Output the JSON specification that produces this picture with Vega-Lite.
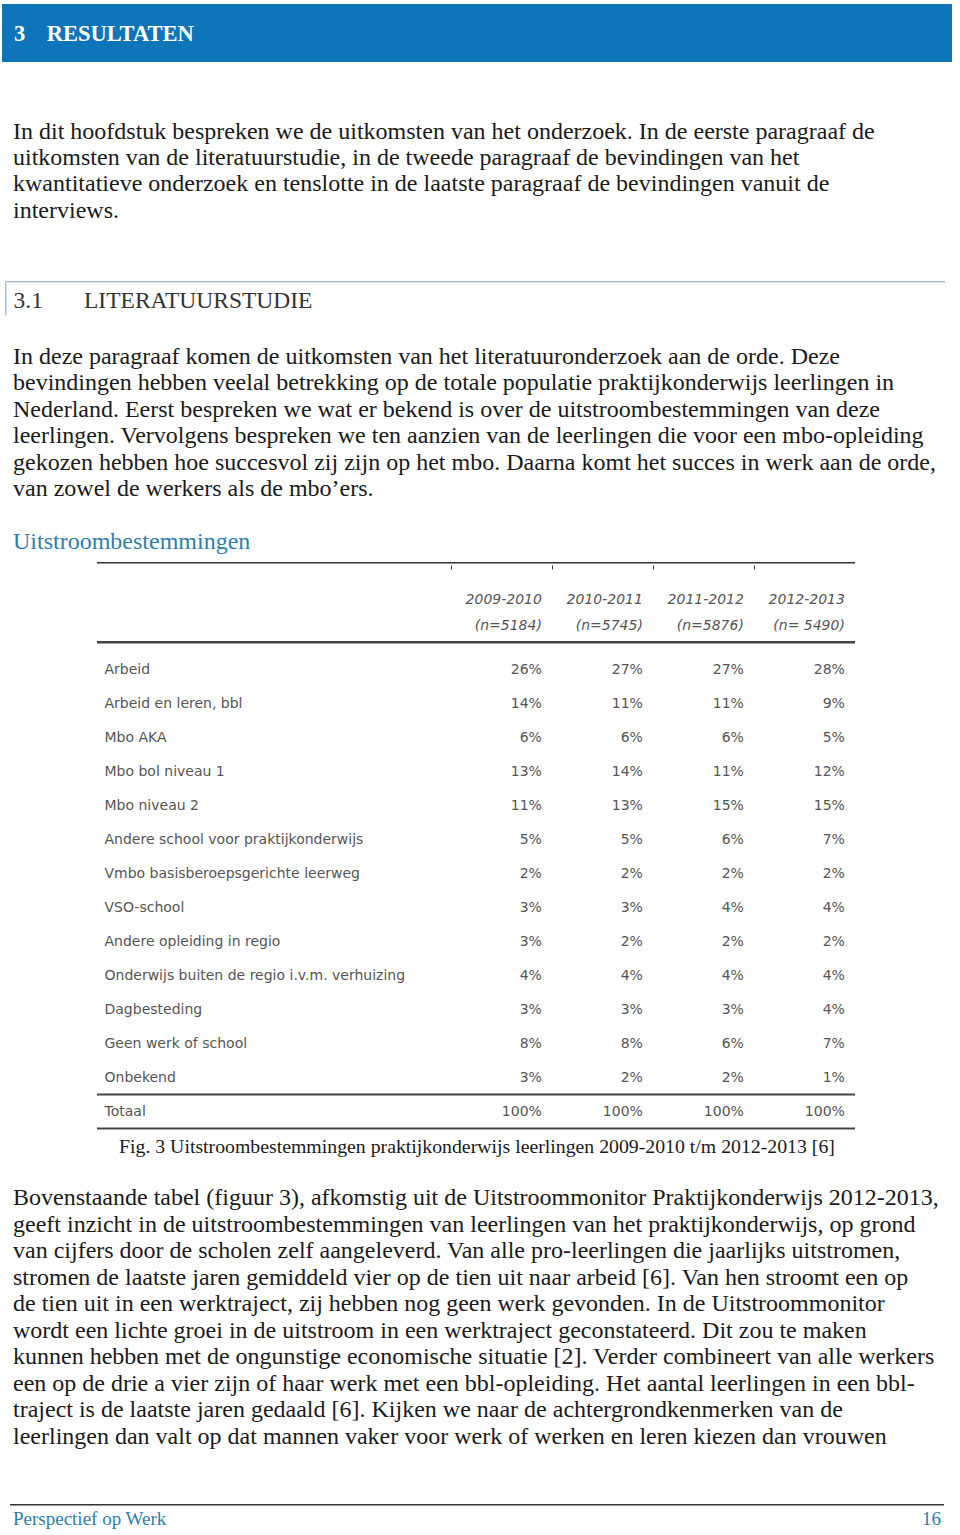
{
  "$schema": "https://vega.github.io/schema/vega-lite/v6.json",
  "padding": {"left": 2, "top": 4, "right": 0, "bottom": 0},
  "background": "white",
  "spacing": 0,
  "config": {
    "view": {"stroke": null},
    "concat": {"spacing": 0},
    "title": {"anchor": "start", "orient": "bottom", "frame": "group", "font": "Liberation Serif", "fontSize": 24, "fontWeight": "normal", "color": "#1a1a1a", "lineHeight": 26.4, "dx": 11}
  },
  "datasets": {
    "uitstroom": [
      {"bestemming": "Arbeid", "schooljaar": "2009-2010", "aandeel": 0.26},
      {"bestemming": "Arbeid", "schooljaar": "2010-2011", "aandeel": 0.27},
      {"bestemming": "Arbeid", "schooljaar": "2011-2012", "aandeel": 0.27},
      {"bestemming": "Arbeid", "schooljaar": "2012-2013", "aandeel": 0.28},
      {"bestemming": "Arbeid en leren, bbl", "schooljaar": "2009-2010", "aandeel": 0.14},
      {"bestemming": "Arbeid en leren, bbl", "schooljaar": "2010-2011", "aandeel": 0.11},
      {"bestemming": "Arbeid en leren, bbl", "schooljaar": "2011-2012", "aandeel": 0.11},
      {"bestemming": "Arbeid en leren, bbl", "schooljaar": "2012-2013", "aandeel": 0.09},
      {"bestemming": "Mbo AKA", "schooljaar": "2009-2010", "aandeel": 0.06},
      {"bestemming": "Mbo AKA", "schooljaar": "2010-2011", "aandeel": 0.06},
      {"bestemming": "Mbo AKA", "schooljaar": "2011-2012", "aandeel": 0.06},
      {"bestemming": "Mbo AKA", "schooljaar": "2012-2013", "aandeel": 0.05},
      {"bestemming": "Mbo bol niveau 1", "schooljaar": "2009-2010", "aandeel": 0.13},
      {"bestemming": "Mbo bol niveau 1", "schooljaar": "2010-2011", "aandeel": 0.14},
      {"bestemming": "Mbo bol niveau 1", "schooljaar": "2011-2012", "aandeel": 0.11},
      {"bestemming": "Mbo bol niveau 1", "schooljaar": "2012-2013", "aandeel": 0.12},
      {"bestemming": "Mbo niveau 2", "schooljaar": "2009-2010", "aandeel": 0.11},
      {"bestemming": "Mbo niveau 2", "schooljaar": "2010-2011", "aandeel": 0.13},
      {"bestemming": "Mbo niveau 2", "schooljaar": "2011-2012", "aandeel": 0.15},
      {"bestemming": "Mbo niveau 2", "schooljaar": "2012-2013", "aandeel": 0.15},
      {"bestemming": "Andere school voor praktijkonderwijs", "schooljaar": "2009-2010", "aandeel": 0.05},
      {"bestemming": "Andere school voor praktijkonderwijs", "schooljaar": "2010-2011", "aandeel": 0.05},
      {"bestemming": "Andere school voor praktijkonderwijs", "schooljaar": "2011-2012", "aandeel": 0.06},
      {"bestemming": "Andere school voor praktijkonderwijs", "schooljaar": "2012-2013", "aandeel": 0.07},
      {"bestemming": "Vmbo basisberoepsgerichte leerweg", "schooljaar": "2009-2010", "aandeel": 0.02},
      {"bestemming": "Vmbo basisberoepsgerichte leerweg", "schooljaar": "2010-2011", "aandeel": 0.02},
      {"bestemming": "Vmbo basisberoepsgerichte leerweg", "schooljaar": "2011-2012", "aandeel": 0.02},
      {"bestemming": "Vmbo basisberoepsgerichte leerweg", "schooljaar": "2012-2013", "aandeel": 0.02},
      {"bestemming": "VSO-school", "schooljaar": "2009-2010", "aandeel": 0.03},
      {"bestemming": "VSO-school", "schooljaar": "2010-2011", "aandeel": 0.03},
      {"bestemming": "VSO-school", "schooljaar": "2011-2012", "aandeel": 0.04},
      {"bestemming": "VSO-school", "schooljaar": "2012-2013", "aandeel": 0.04},
      {"bestemming": "Andere opleiding in regio", "schooljaar": "2009-2010", "aandeel": 0.03},
      {"bestemming": "Andere opleiding in regio", "schooljaar": "2010-2011", "aandeel": 0.02},
      {"bestemming": "Andere opleiding in regio", "schooljaar": "2011-2012", "aandeel": 0.02},
      {"bestemming": "Andere opleiding in regio", "schooljaar": "2012-2013", "aandeel": 0.02},
      {"bestemming": "Onderwijs buiten de regio i.v.m. verhuizing", "schooljaar": "2009-2010", "aandeel": 0.04},
      {"bestemming": "Onderwijs buiten de regio i.v.m. verhuizing", "schooljaar": "2010-2011", "aandeel": 0.04},
      {"bestemming": "Onderwijs buiten de regio i.v.m. verhuizing", "schooljaar": "2011-2012", "aandeel": 0.04},
      {"bestemming": "Onderwijs buiten de regio i.v.m. verhuizing", "schooljaar": "2012-2013", "aandeel": 0.04},
      {"bestemming": "Dagbesteding", "schooljaar": "2009-2010", "aandeel": 0.03},
      {"bestemming": "Dagbesteding", "schooljaar": "2010-2011", "aandeel": 0.03},
      {"bestemming": "Dagbesteding", "schooljaar": "2011-2012", "aandeel": 0.03},
      {"bestemming": "Dagbesteding", "schooljaar": "2012-2013", "aandeel": 0.04},
      {"bestemming": "Geen werk of school", "schooljaar": "2009-2010", "aandeel": 0.08},
      {"bestemming": "Geen werk of school", "schooljaar": "2010-2011", "aandeel": 0.08},
      {"bestemming": "Geen werk of school", "schooljaar": "2011-2012", "aandeel": 0.06},
      {"bestemming": "Geen werk of school", "schooljaar": "2012-2013", "aandeel": 0.07},
      {"bestemming": "Onbekend", "schooljaar": "2009-2010", "aandeel": 0.03},
      {"bestemming": "Onbekend", "schooljaar": "2010-2011", "aandeel": 0.02},
      {"bestemming": "Onbekend", "schooljaar": "2011-2012", "aandeel": 0.02},
      {"bestemming": "Onbekend", "schooljaar": "2012-2013", "aandeel": 0.01},
      {"bestemming": "Totaal", "schooljaar": "2009-2010", "aandeel": 1.0},
      {"bestemming": "Totaal", "schooljaar": "2010-2011", "aandeel": 1.0},
      {"bestemming": "Totaal", "schooljaar": "2011-2012", "aandeel": 1.0},
      {"bestemming": "Totaal", "schooljaar": "2012-2013", "aandeel": 1.0}
    ],
    "kolommen": [
      {"schooljaar": "2009-2010", "n": "(n=5184)"},
      {"schooljaar": "2010-2011", "n": "(n=5745)"},
      {"schooljaar": "2011-2012", "n": "(n=5876)"},
      {"schooljaar": "2012-2013", "n": "(n= 5490)"}
    ]
  },
  "vconcat": [
    {
      "width": 950, "height": 58,
      "view": {"fill": "#0E75B8", "stroke": null},
      "data": {"values": []},
      "mark": "point",
      "title": {"text": "3\u00a0\u00a0\u00a0\u2009RESULTATEN", "color": "#ffffff", "fontWeight": "bold", "fontSize": 22.5, "offset": -39, "dx": 12}
    },
    {
      "width": 950, "height": 219,
      "data": {"values": []},
      "mark": "point",
      "title": {
        "text": [
          "In dit hoofdstuk bespreken we de uitkomsten van het onderzoek. In de eerste paragraaf de",
          "uitkomsten van de literatuurstudie, in de tweede paragraaf de bevindingen van het",
          "kwantitatieve onderzoek en tenslotte in de laatste paragraaf de bevindingen vanuit de",
          "interviews."
        ],
        "offset": -161.5
      }
    },
    {
      "hconcat": [
        {"width": 3, "height": 1, "data": {"values": []}, "mark": "point"},
        {
          "vconcat": [
            {"width": 940, "height": 1.5, "view": {"fill": "#A7BDD3", "stroke": null}, "data": {"values": []}, "mark": "point"},
            {
              "hconcat": [
                {"width": 1.5, "height": 32.5, "view": {"fill": "#A7BDD3", "stroke": null}, "data": {"values": []}, "mark": "point"},
                {
                  "width": 938.5, "height": 32.5,
                  "data": {"values": []},
                  "mark": "point",
                  "title": {"text": "3.1\u00a0\u00a0\u00a0\u00a0\u00a0\u00a0\u00a0LITERATUURSTUDIE", "fontSize": 23.5, "color": "#333333", "offset": -27, "dx": 6.5}
                }
              ],
              "spacing": 0
            }
          ],
          "spacing": 0
        }
      ],
      "spacing": 0
    },
    {
      "width": 950, "height": 205,
      "data": {"values": []},
      "mark": "point",
      "title": {
        "text": [
          "In deze paragraaf komen de uitkomsten van het literatuuronderzoek aan de orde. Deze",
          "bevindingen hebben veelal betrekking op de totale populatie praktijkonderwijs leerlingen in",
          "Nederland. Eerst bespreken we wat er bekend is over de uitstroombestemmingen van deze",
          "leerlingen. Vervolgens bespreken we ten aanzien van de leerlingen die voor een mbo-opleiding",
          "gekozen hebben hoe succesvol zij zijn op het mbo. Daarna komt het succes in werk aan de orde,",
          "van zowel de werkers als de mbo’ers."
        ],
        "offset": -176
      }
    },
    {
      "width": 950, "height": 41,
      "data": {"values": []},
      "mark": "point",
      "title": {"text": "Uitstroombestemmingen", "fontSize": 24, "color": "#2F7EAA", "offset": -32}
    },
    {
      "hconcat": [
        {"width": 93, "height": 1, "data": {"values": []}, "mark": "point"},
        {
          "vconcat": [
            {"width": 758, "height": 1.5, "view": {"fill": "#333333", "stroke": null}, "data": {"values": []}, "mark": "point"},
            {
              "width": 758, "height": 75.5,
              "data": {"name": "kolommen"},
              "transform": [{"fold": ["schooljaar", "n"], "as": ["regel", "tekst"]}],
              "mark": {"type": "text", "align": "right", "baseline": "middle", "font": "DejaVu Sans", "fontSize": 14, "fontStyle": "italic", "color": "#555555"},
              "encoding": {
                "x": {
                  "field": "schooljaar", "type": "nominal", "bandPosition": 0.9,
                  "scale": {"type": "band", "range": [354, 758], "paddingInner": 0, "paddingOuter": 0},
                  "axis": {"orient": "top", "title": null, "labels": false, "domain": false, "ticks": true, "tickSize": -4, "bandPosition": 0, "tickColor": "#333333", "tickWidth": 1, "grid": false}
                },
                "y": {
                  "field": "regel", "type": "nominal",
                  "scale": {"type": "band", "domain": ["schooljaar", "n"], "paddingInner": 0, "paddingOuter": 0.452, "align": 0.957},
                  "axis": null
                },
                "text": {"field": "tekst"}
              }
            },
            {"width": 758, "height": 2.5, "view": {"fill": "#444444", "stroke": null}, "data": {"values": []}, "mark": "point"},
            {
              "width": 758, "height": 485.5,
              "data": {"name": "uitstroom"},
              "encoding": {
                "y": {
                  "field": "bestemming", "type": "nominal",
                  "scale": {
                    "type": "band",
                    "domain": ["Arbeid", "Arbeid en leren, bbl", "Mbo AKA", "Mbo bol niveau 1", "Mbo niveau 2", "Andere school voor praktijkonderwijs", "Vmbo basisberoepsgerichte leerweg", "VSO-school", "Andere opleiding in regio", "Onderwijs buiten de regio i.v.m. verhuizing", "Dagbesteding", "Geen werk of school", "Onbekend", "Totaal"],
                    "paddingInner": 0, "paddingOuter": 0.1397, "align": 0.895
                  },
                  "axis": {"orient": "left", "title": null, "domain": false, "ticks": false, "tickSize": 0, "labelAlign": "left", "labelBaseline": "middle", "labelPadding": -7, "labelFont": "DejaVu Sans", "labelFontSize": 14, "labelColor": "#555555", "labelLimit": 500, "grid": false}
                }
              },
              "layer": [
                {
                  "mark": {"type": "text", "align": "right", "baseline": "middle", "font": "DejaVu Sans", "fontSize": 14, "color": "#555555"},
                  "encoding": {
                    "x": {
                      "field": "schooljaar", "type": "nominal", "bandPosition": 0.9,
                      "scale": {"type": "band", "range": [354, 758], "paddingInner": 0, "paddingOuter": 0},
                      "axis": null
                    },
                    "text": {"field": "aandeel", "type": "quantitative", "format": ".0%"}
                  }
                },
                {
                  "transform": [{"filter": "datum.bestemming === 'Totaal' && datum.schooljaar === '2009-2010'"}],
                  "mark": {"type": "rule", "color": "#444444", "strokeWidth": 2.2},
                  "encoding": {"y": {"field": "bestemming", "type": "nominal", "bandPosition": 0}}
                },
                {
                  "transform": [{"filter": "datum.bestemming === 'Totaal' && datum.schooljaar === '2009-2010'"}],
                  "mark": {"type": "rule", "color": "#444444", "strokeWidth": 2.2},
                  "encoding": {"y": {"field": "bestemming", "type": "nominal", "bandPosition": 1}}
                }
              ]
            }
          ],
          "spacing": 0
        }
      ],
      "spacing": 0
    },
    {
      "width": 950, "height": 42,
      "data": {"values": []},
      "mark": "point",
      "title": {"text": "Fig. 3 Uitstroombestemmingen praktijkonderwijs leerlingen 2009-2010 t/m 2012-2013 [6]", "fontSize": 19.8, "offset": -35, "dx": 117}
    },
    {
      "width": 950, "height": 295,
      "data": {"values": []},
      "mark": "point",
      "title": {
        "text": [
          "Bovenstaande tabel (figuur 3), afkomstig uit de Uitstroommonitor Praktijkonderwijs 2012-2013,",
          "geeft inzicht in de uitstroombestemmingen van leerlingen van het praktijkonderwijs, op grond",
          "van cijfers door de scholen zelf aangeleverd. Van alle pro-leerlingen die jaarlijks uitstromen,",
          "stromen de laatste jaren gemiddeld vier op de tien uit naar arbeid [6]. Van hen stroomt een op",
          "de tien uit in een werktraject, zij hebben nog geen werk gevonden. In de Uitstroommonitor",
          "wordt een lichte groei in de uitstroom in een werktraject geconstateerd. Dit zou te maken",
          "kunnen hebben met de ongunstige economische situatie [2]. Verder combineert van alle werkers",
          "een op de drie a vier zijn of haar werk met een bbl-opleiding. Het aantal leerlingen in een bbl-",
          "traject is de laatste jaren gedaald [6]. Kijken we naar de achtergrondkenmerken van de",
          "leerlingen dan valt op dat mannen vaker voor werk of werken en leren kiezen dan vrouwen"
        ],
        "lineHeight": 26.5,
        "offset": -281
      }
    },
    {"width": 950, "height": 37, "data": {"values": []}, "mark": "point"},
    {
      "hconcat": [
        {"width": 8, "height": 1.5, "data": {"values": []}, "mark": "point"},
        {"width": 934, "height": 1.5, "view": {"fill": "#333333", "stroke": null}, "data": {"values": []}, "mark": "point"}
      ],
      "spacing": 0
    },
    {
      "hconcat": [
        {
          "width": 850, "height": 31.5,
          "data": {"values": []},
          "mark": "point",
          "title": {"text": "Perspectief op Werk", "fontSize": 19, "color": "#2F7EAA", "offset": -28}
        },
        {
          "width": 92, "height": 31.5,
          "data": {"values": []},
          "mark": "point",
          "title": {"text": "16", "anchor": "end", "fontSize": 19, "color": "#2F7EAA", "offset": -28, "dx": -3}
        }
      ],
      "spacing": 0
    }
  ]
}
